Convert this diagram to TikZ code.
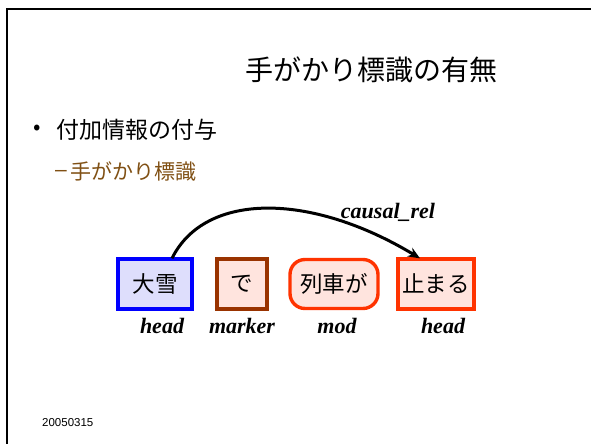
\documentclass[tikz,border=0pt]{standalone}
\usepackage{fontspec}
\setmainfont{Liberation Serif}
\setsansfont{Liberation Sans}
\newfontfamily\jp{Noto Sans CJK JP}
\usetikzlibrary{arrows.meta}
\definecolor{boxblue}{RGB}{0,0,255}
\definecolor{boxbrown}{RGB}{153,51,0}
\definecolor{boxred}{RGB}{255,51,0}
\definecolor{fillblue}{RGB}{222,222,252}
\definecolor{fillpink}{RGB}{255,228,222}
\definecolor{subbrown}{RGB}{128,80,20}
\tikzset{
  word/.style={draw, line width=3.4pt, inner sep=0pt, font=\jp\fontsize{22.5}{26}\selectfont, anchor=center},
  role/.style={font=\bfseries\itshape\fontsize{22}{26}\selectfont, inner sep=0pt},
  link/.style={line width=3pt, -{Stealth[length=12pt,width=10pt]}},
  frameline/.style={line width=2pt}
}
\begin{document}
\begin{tikzpicture}[x=1pt,y=-1pt]
\useasboundingbox (0,0) rectangle (591,444);
\coordinate (tl) at (7,9);
\coordinate (tr) at (591,9);
\coordinate (bl) at (7,444);
\draw[frameline] (tr) -- (tl) -- (bl);
\node[font=\jp\fontsize{28}{32}\selectfont, inner sep=0pt] (title) at (371,70) {手がかり標識の有無};
\node[font=\jp\fontsize{22}{26}\selectfont, inner sep=0pt] (dot) at (37,130) {•};
\node[font=\jp\fontsize{23}{26}\selectfont, inner sep=0pt, anchor=west] (bul) at (56,130) {付加情報の付与};
\node[font=\sffamily\fontsize{21}{24}\selectfont, inner sep=0pt, text=subbrown] (dash) at (61,173) {–};
\node[font=\jp\fontsize{21}{24}\selectfont, inner sep=0pt, anchor=west, text=subbrown] (sub) at (70,172) {手がかり標識};
\node[word, draw=boxblue, fill=fillblue, minimum width=74pt, minimum height=50pt] (daisetsu) at (155,284) {大雪};
\node[word, draw=boxbrown, fill=fillpink, minimum width=50pt, minimum height=50pt] (de) at (242,284) {で};
\node[word, draw=boxred, fill=fillpink, rounded corners=15pt, minimum width=88pt, minimum height=49pt] (ressha) at (334,284) {列車が};
\node[word, draw=boxred, fill=fillpink, minimum width=76pt, minimum height=50pt] (tomaru) at (436,284) {止まる};
\node[role] (r1) at (162,326) {head};
\node[role] (r2) at (242,326) {marker};
\node[role] (r3) at (337,326) {mod};
\node[role] (r4) at (443,326) {head};
\node[role] (rel) at (388,212) {causal\_rel};
\draw[link] ([xshift=17pt,yshift=-1pt]daisetsu.north) .. controls (205,192) and (310,192) .. ([xshift=-16pt,yshift=-1pt]tomaru.north);
\node[font=\sffamily\fontsize{11.5}{13}\selectfont, inner sep=0pt, anchor=west] (date) at (42,423) {20050315};
\end{tikzpicture}
\end{document}
